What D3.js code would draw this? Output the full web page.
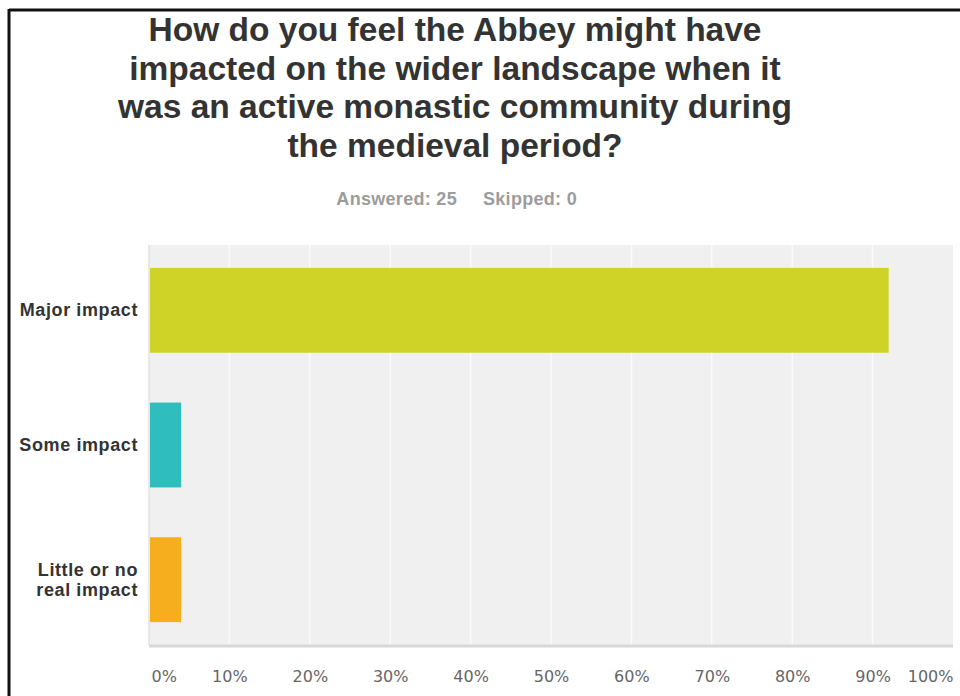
<!DOCTYPE html>
<html>
<head>
<meta charset="utf-8">
<script src="https://cdn.jsdelivr.net/npm/d3@7/dist/d3.min.js"></script>
<style>
  html, body { margin: 0; padding: 0; background: #fff; }
  svg { display: block; font-family: "Liberation Sans", Arial, sans-serif; }
</style>
</head>
<body>
<svg id="chart" width="960" height="696"></svg>
<script>
const titleLines = [
  "How do you feel the Abbey might have",
  "impacted on the wider landscape when it",
  "was an active monastic community during",
  "the medieval period?"
];
const subtitleParts = ["Answered: 25", "Skipped: 0"];
const categories = ["Major impact", "Some impact", "Little or no real impact"];
const categoryLines = [["Major impact"], ["Some impact"], ["Little or no", "real impact"]];
const values = [92, 4, 4];
const colors = ["#cfd328", "#30bdbd", "#f6ae1f"];
const tickValues = [0, 10, 20, 30, 40, 50, 60, 70, 80, 90, 100];

const svg = d3.select("#chart");

// frame
svg.append("line").attr("x1", 9).attr("x2", 960).attr("y1", 10).attr("y2", 10)
  .attr("stroke", "#111").attr("stroke-width", 3);
svg.append("line").attr("x1", 9).attr("x2", 9).attr("y1", 9).attr("y2", 696)
  .attr("stroke", "#111").attr("stroke-width", 3);

// title
const title = svg.append("text").attr("text-anchor", "middle")
  .attr("font-size", 33.5).attr("font-weight", "bold").attr("fill", "#333");
titleLines.forEach((t, i) => {
  title.append("tspan").attr("x", 455).attr("y", 41 + i * 38.5).text(t);
});

// subtitle
const sub = svg.append("text").attr("y", 205)
  .attr("font-size", 18).attr("font-weight", "bold").attr("fill", "#9c9c9c")
  .attr("letter-spacing", 0.3);
sub.append("tspan").attr("x", 457).attr("text-anchor", "end").text(subtitleParts[0]);
sub.append("tspan").attr("x", 483).attr("text-anchor", "start").text(subtitleParts[1]);

const margin = { left: 149, right: 953, top: 245, bottom: 645 };
const x = d3.scaleLinear().domain([0, 100]).range([margin.left, margin.right]);
const y = d3.scaleBand().domain(categories).range([margin.top, margin.bottom])
  .paddingInner(0.37).paddingOuter(0.17);

// plot bg
svg.append("rect").attr("x", margin.left).attr("y", margin.top)
  .attr("width", margin.right - margin.left).attr("height", margin.bottom - margin.top)
  .attr("fill", "#f0f0f0");

// gridlines
svg.append("g").selectAll("line").data(tickValues.slice(1, -1)).join("line")
  .attr("x1", d => x(d)).attr("x2", d => x(d))
  .attr("y1", margin.top).attr("y2", margin.bottom)
  .attr("stroke", "#fafafa").attr("stroke-width", 1.5);

// left axis line
svg.append("line").attr("x1", margin.left).attr("x2", margin.left)
  .attr("y1", margin.top).attr("y2", margin.bottom)
  .attr("stroke", "#e2e2e2").attr("stroke-width", 1.5);
// bottom axis line
svg.append("line").attr("x1", margin.left).attr("x2", margin.right)
  .attr("y1", margin.bottom + 1).attr("y2", margin.bottom + 1)
  .attr("stroke", "#d8d8d8").attr("stroke-width", 3);

// bars
svg.append("g").selectAll("rect").data(categories).join("rect")
  .attr("x", x(0) + 1).attr("y", d => y(d))
  .attr("width", (d, i) => x(values[i]) - x(0) - 1)
  .attr("height", y.bandwidth())
  .attr("fill", (d, i) => colors[i]);

// x axis
const xAxis = d3.axisBottom(x).tickValues(tickValues).tickFormat(d => d + "%").tickSize(0).tickPadding(0);
const gx = svg.append("g").attr("transform", `translate(0,${margin.bottom + 37})`).call(xAxis);
gx.select(".domain").remove();
gx.selectAll("text").attr("font-size", 16).attr("fill", "#666")
  .attr("font-family", "'DejaVu Sans', Verdana, sans-serif")
  .attr("dy", 0).attr("text-anchor", "middle");
gx.selectAll(".tick").filter(d => d === 0).select("text").attr("text-anchor", "start").attr("dx", 2);
gx.selectAll(".tick").filter(d => d === 100).select("text").attr("text-anchor", "end").attr("dx", 0);

// y labels
const gy = svg.append("g");
categories.forEach((c, i) => {
  const lines = categoryLines[i];
  const cy = y(c) + y.bandwidth() / 2;
  const t = gy.append("text").attr("text-anchor", "end").attr("font-size", 18)
    .attr("font-weight", "bold").attr("fill", "#333").attr("letter-spacing", 0.6);
  lines.forEach((l, j) => {
    t.append("tspan").attr("x", 138)
      .attr("y", cy + (j - (lines.length - 1) / 2) * 20 + 6).text(l);
  });
});
</script>
</body>
</html>
